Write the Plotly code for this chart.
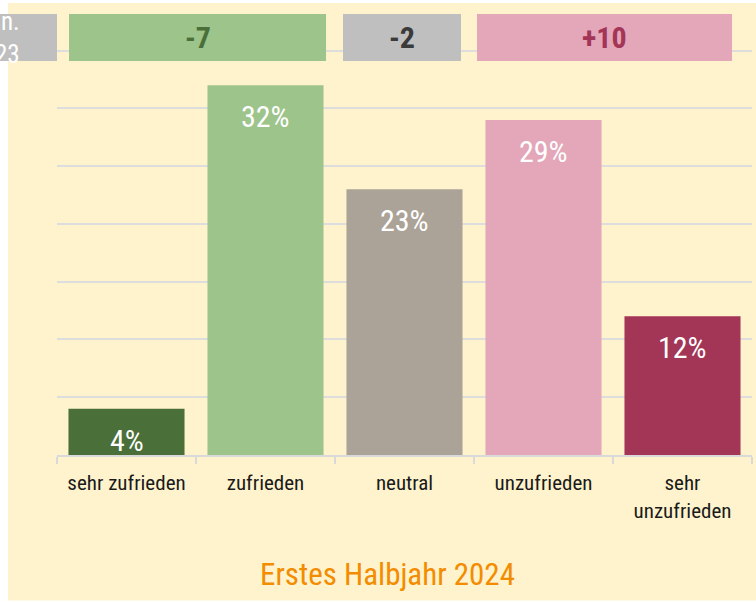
import plotly.graph_objects as go

categories = ["sehr zufrieden", "zufrieden", "neutral", "unzufrieden", "sehr<br>unzufrieden"]
values = [4, 32, 23, 29, 12]
bar_colors = ["#4B6F38", "#9DC48B", "#ABA397", "#E3A7B9", "#A33556"]

change_labels = ["-7", "-2", "+10"]
change_fill = ["#9DC48B", "#BFBFBF", "#E3A7B9"]
change_text_color = ["#4B6F38", "#3A3A3A", "#A33556"]
# box horizontal extents in paper coords (layout only)
change_x = [(0.0173, 0.3871), (0.4115, 0.5813), (0.6043, 0.9712)]

title_text = "Erstes Halbjahr 2024"
left_label = "n.<br>23"

FONT = "Roboto Condensed, Roboto, sans-serif"

fig = go.Figure()
fig.add_trace(go.Bar(
    x=categories, y=values, marker=dict(color=bar_colors, line=dict(width=0)),
    hoverinfo="skip", showlegend=False,
))

shapes = []
# cream panel background
shapes.append(dict(type="rect", xref="paper", yref="paper", x0=-0.0705, x1=1.01, y0=-0.35, y1=1.0865,
                   fillcolor="#FFF3CD", line=dict(width=0), layer="below"))
annotations = []
# left clipped grey box
shapes.append(dict(type="rect", xref="paper", yref="paper", x0=-0.2, x1=0.0, y0=0.9471, y1=1.0601,
                   fillcolor="#BFBFBF", line=dict(width=0), layer="above"))
annotations.append(dict(xref="paper", yref="paper", x=-0.0504, y=1.0036, xanchor="right", yanchor="middle",
                        text=left_label, showarrow=False, align="right",
                        font=dict(family=FONT, size=25, color="white")))
for (x0, x1), fc, lbl, tc in zip(change_x, change_fill, change_labels, change_text_color):
    shapes.append(dict(type="rect", xref="paper", yref="paper", x0=x0, x1=x1, y0=0.9471, y1=1.0601,
                       fillcolor=fc, line=dict(width=0), layer="above"))
    annotations.append(dict(xref="paper", yref="paper", x=(x0 + x1) / 2, y=1.0036, xanchor="center",
                            yanchor="middle", text="<b>" + lbl + "</b>", showarrow=False,
                            font=dict(family=FONT, size=30, color=tc)))
for c, v in zip(categories, values):
    annotations.append(dict(x=c, y=v, xref="x", yref="y", yanchor="top", yshift=-12,
                            text=f"{v}%", showarrow=False,
                            font=dict(family=FONT, size=30, color="white")))
annotations.append(dict(xref="paper", yref="paper", x=0.475, y=-0.288, xanchor="center", yanchor="middle",
                        text=title_text, showarrow=False,
                        font=dict(family=FONT, size=31, color="#F28C00")))

fig.update_layout(
    width=756, height=602,
    margin=dict(l=57, r=4, t=39, b=147),
    paper_bgcolor="white", plot_bgcolor="rgba(0,0,0,0)",
    bargap=0.165,
    shapes=shapes, annotations=annotations,
    font=dict(family=FONT, size=21, color="#1A1A1A"),
    xaxis=dict(showgrid=False, showline=True, linecolor="#D9D9D9", linewidth=2,
               ticks="outside", tickson="boundaries", ticklen=7, tickcolor="#D9D9D9", tickwidth=2,
               ticklabelstandoff=8,
               tickfont=dict(family=FONT, size=21, color="#1A1A1A")),
    yaxis=dict(range=[0, 36], dtick=5, showticklabels=False, showgrid=True, gridcolor="#DDDDDD",
               gridwidth=2, zeroline=False, fixedrange=True),
)

fig.write_html("out.html", config={"displayModeBar": False},
               post_script="document.body.style.margin='0';")
